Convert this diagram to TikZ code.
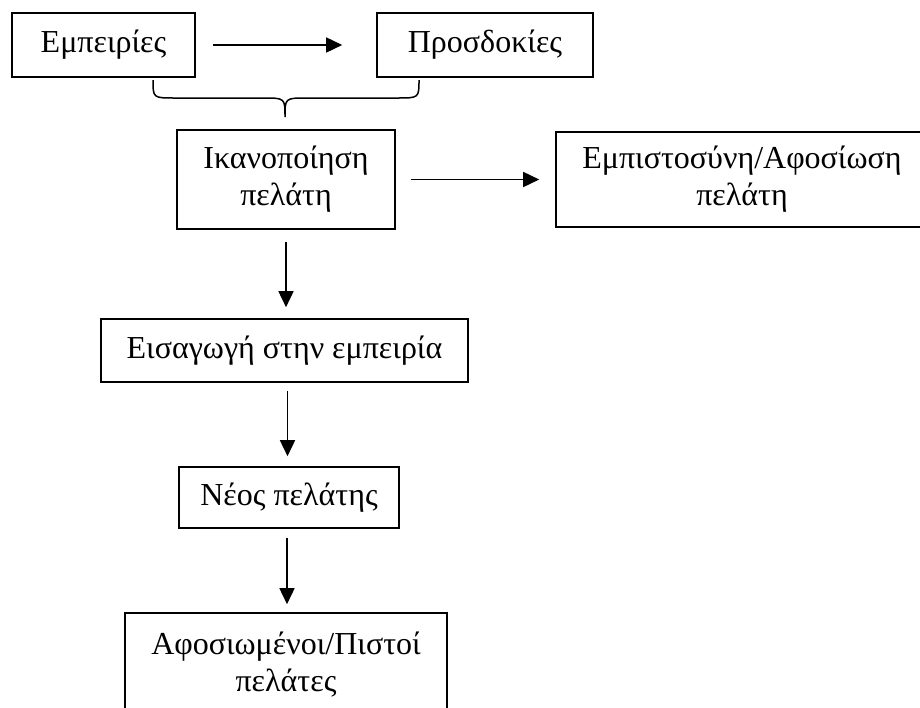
\documentclass[tikz,border=0pt]{standalone}
\usepackage{fontspec}
\setmainfont{Liberation Serif}
\usetikzlibrary{arrows.meta}
\begin{document}
\begin{tikzpicture}[x=1pt,y=-1pt,
  box/.style={draw,line width=1.6pt,align=center,inner sep=0pt,
    font=\fontsize{32}{37}\selectfont},
  arr/.style={line width=1.6pt,-{Triangle[length=16pt,width=15pt]}}]
  \useasboundingbox (0,0) rectangle (920,707);
  \clip (0,0) rectangle (920,707);

  % boxes
  \node[box,minimum width=183pt,minimum height=64pt] (exp) at (103.5,45) {Εμπειρίες};
  \node[box,minimum width=216pt,minimum height=64pt] (expect) at (485,45) {Προσδοκίες};
  \node[box,minimum width=218pt,minimum height=99pt] (sat) at (286,179.5) {Ικανοποίηση\\πελάτη};
  \node[box,minimum width=372pt,minimum height=95pt] (trust) at (742,179.5) {Εμπιστοσύνη/Αφοσίωση\\πελάτη};
  \node[box,minimum width=367pt,minimum height=63pt] (intro) at (284.5,350.5) {Εισαγωγή στην εμπειρία};
  \node[box,minimum width=220pt,minimum height=61pt] (new) at (289,497.5) {Νέος πελάτης};
  \node[box,minimum width=322pt,minimum height=104pt] (loyal) at (286,665) {Αφοσιωμένοι/Πιστοί\\πελάτες};

  % connectors
  \draw[arr,shorten <=17pt,shorten >=34pt] (exp) -- (expect);
  \draw[arr,shorten <=15pt,shorten >=16pt] (sat) -- (trust);
  \draw[arr,shorten <=12pt,shorten >=11pt] (sat.south) -- (sat.south |- intro.north);
  \draw[arr,shorten <=8pt,shorten >=10pt] ([xshift=3pt]intro.south) -- ([xshift=3pt]intro.south |- new.north);
  \draw[arr,shorten <=9pt,shorten >=8pt] ([xshift=-2pt]new.south) -- ([xshift=-2pt]new.south |- loyal.north);

  % brace joining the two upper boxes
  \coordinate (bl) at (153,80);
  \coordinate (br) at (419,80);
  \coordinate (tip) at (285,117);
  \draw[line width=1.5pt] (bl) .. controls (153,98) .. (175,98) -- (263,98)
    .. controls (285,98) .. (tip)
    .. controls (285,98) .. (307,98) -- (397,98)
    .. controls (419,98) .. (br);
\end{tikzpicture}
\end{document}
